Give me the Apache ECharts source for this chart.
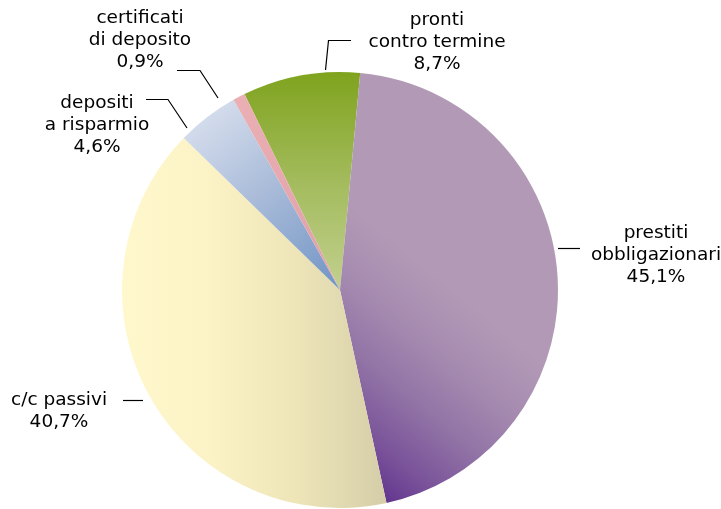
<!DOCTYPE html>
<html>
<head>
<meta charset="utf-8">
<script src="https://cdn.jsdelivr.net/npm/echarts@6/dist/echarts.min.js"></script>
<style>
  html, body { margin: 0; padding: 0; background: #fff; }
  #chart { width: 721px; height: 509px; }
</style>
</head>
<body>
<div id="chart"></div>
<script>
// slices, clockwise from the top
const names = [
  "pronti\ncontro termine",
  "prestiti\nobbligazionari",
  "c/c passivi",
  "depositi\na risparmio",
  "certificati\ndi deposito"
];
const values = [8.7, 45.1, 40.7, 4.6, 0.9];

const grad = (x, y, x2, y2, stops) => new echarts.graphic.LinearGradient(
  x, y, x2, y2, stops.map((c, i) => ({ offset: i / (stops.length - 1), color: c }))
);

const colors = [
  grad(0, 0, 0, 1, ["#7fa31e", "#a3bb5c", "#c2d08f"]),
  grad(0.1, 1, 0.75, 0.6, ["#5a2a8b", "#7a539a", "#9274a6", "#a68bb0", "#b29ab6"]),
  grad(0, 0, 1, 0, ["#fff8cc", "#fbf3c6", "#ede5b8", "#d5cda8"]),
  grad(0, 0, 1, 1, ["#dfe5f1", "#a9bbd9", "#7094c4"]),
  grad(0, 0, 1, 1, ["#eab0b4", "#dfa0a8"])
];

// where each label sits and how its leader line runs
const labelPos = [
  { x: 437, y: 42, line: [[325.5, 70], [328.5, 40.5], [351, 40.5]] },
  { x: 656, y: 255, line: [[558, 248.5], [569, 248.5], [580, 248.5]] },
  { x: 59, y: 411, line: [[143, 400.5], [133, 400.5], [123, 400.5]] },
  { x: 97, y: 125, line: [[187, 128], [168, 99.5], [146, 99.5]] },
  { x: 140, y: 40, line: [[218, 98], [200, 70.5], [177, 70.5]] }
];

const chart = echarts.init(document.getElementById("chart"));

const data = [];
for (let i = 0; i < names.length; i++) {
  data.push({
    name: names[i],
    value: values[i],
    itemStyle: { color: colors[i] }
  });
}

const option = {
  animation: false,
  series: [
    {
      type: "pie",
      center: [340, 290],
      radius: 218,
      startAngle: 116,
      clockwise: true,
      data: data,
      itemStyle: { borderWidth: 0 },
      label: {
        show: true,
        color: "#000",
        fontFamily: "DejaVu Sans",
        fontSize: 18.5,
        lineHeight: 22,
        align: "center",
        overflow: "none",
        formatter: function(p) {
          return p.name + "\n" + String(p.value.toFixed(1)).replace(".", ",") + "%";
        }
      },
      labelLine: {
        show: true,
        lineStyle: { color: "#000", width: 1.2 }
      },
      labelLayout: function(params) {
        const pos = labelPos[params.dataIndex];
        return {
          x: pos.x,
          y: pos.y,
          align: "center",
          verticalAlign: "middle",
          labelLinePoints: pos.line
        };
      }
    }
  ]
};

chart.setOption(option);
window.onresize = function() {
  chart.resize();
};
</script>
</body>
</html>
